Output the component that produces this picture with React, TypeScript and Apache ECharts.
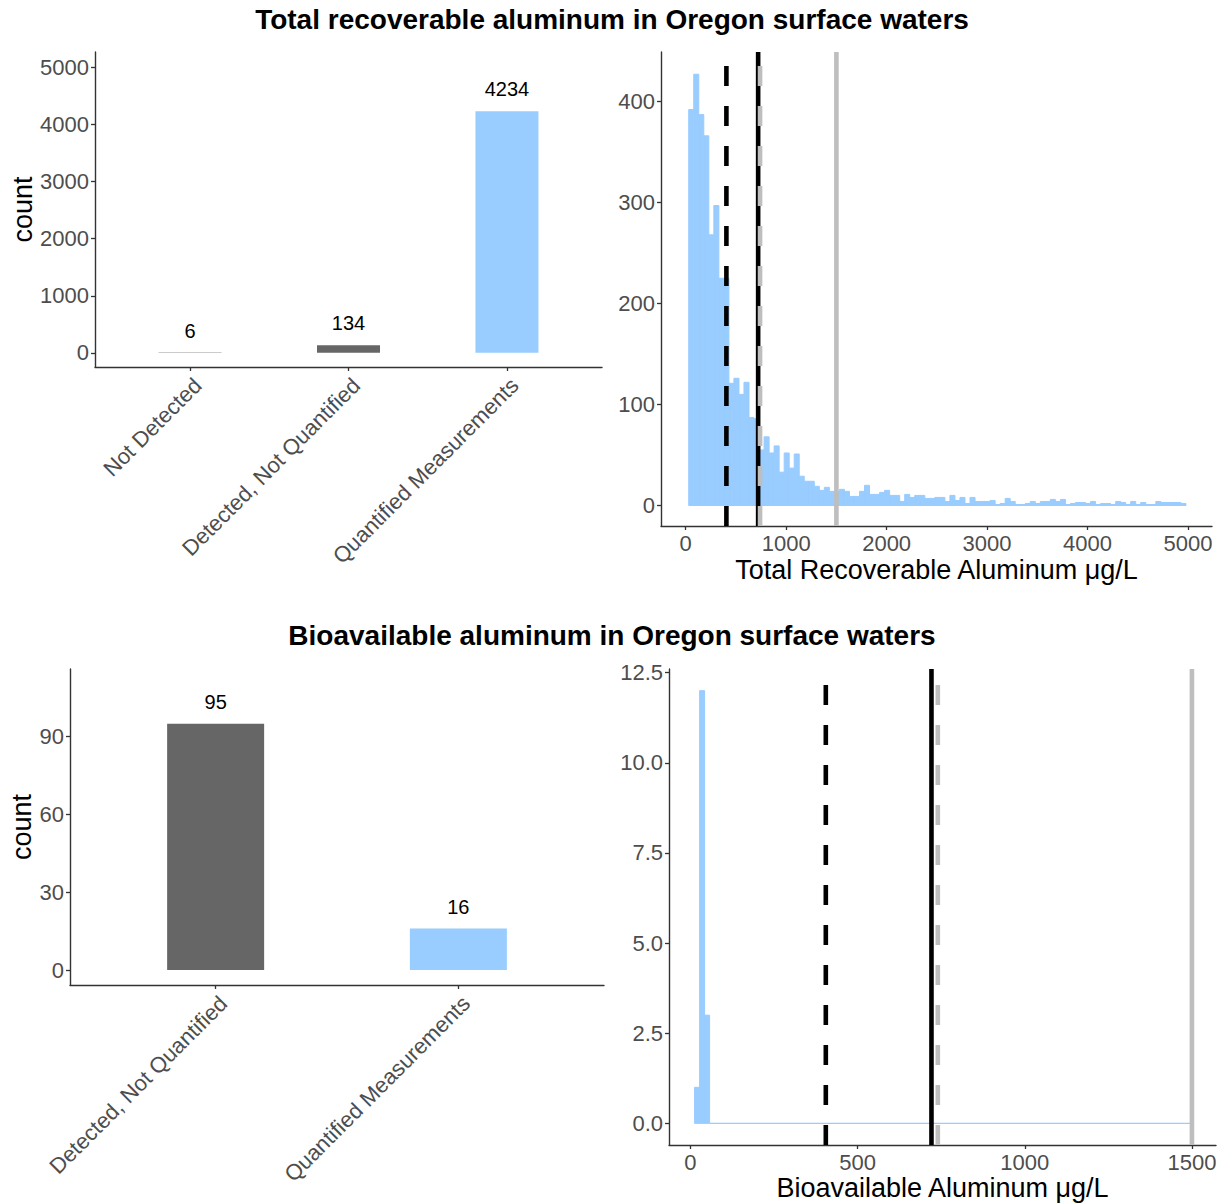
import React, { useEffect, useRef } from "react";
import * as echarts from "echarts";

const FONT = "'Liberation Sans', Arial, Helvetica, sans-serif";

// ---- Titles ----
const totalTitle = "Total recoverable aluminum in Oregon surface waters";
const bioTitle = "Bioavailable aluminum in Oregon surface waters";
const totalXName = "Total Recoverable Aluminum \u03bcg/L";
const bioXName = "Bioavailable Aluminum \u03bcg/L";
const countName = "count";

// ---- Detection category counts ----
const totalCategories = ["Not Detected", "Detected, Not Quantified", "Quantified Measurements"];
const totalCounts = [6, 134, 4234];
const bioCategories = ["Detected, Not Quantified", "Quantified Measurements"];
const bioCounts = [95, 16];

// ---- Histogram of total recoverable aluminum (bins of 50 ug/L starting at 30) ----
const totalBinStart = 30;
const totalBinWidth = 50;
const totalHistCounts = [
  392, 427, 387, 366, 268, 297, 225, 225, 121, 126,
  110, 122, 87, 86, 55, 68, 52, 59, 33, 52,
  37, 51, 29, 24, 24, 19, 15, 18, 14, 14,
  16, 14, 9, 9, 14, 20, 11, 11, 13, 15,
  10, 10, 4, 11, 8, 10, 10, 7, 7, 8,
  8, 4, 10, 5, 8, 2, 8, 4, 4, 4,
  5, 1, 2, 7, 4, 1, 1, 2, 4, 2,
  4, 4, 6, 4, 6, 1, 2, 3, 3, 2,
  4, 1, 2, 2, 1, 4, 3, 1, 4, 1,
  3, 1, 1, 4, 3, 3, 3, 3, 2,
];

// ---- Histogram of bioavailable aluminum (bins of 15 ug/L starting at 12.5) ----
const bioBinStart = 12.5;
const bioBinWidth = 15;
const bioHistCounts = [1, 12, 3];
const bioEmptyBinsUntil = 1500;

// ---- Reference lines (ug/L) ----
const refLineValues = [721, 405, 1500, 740];

// ---- Tick values ----
const totalCountTicks = [0, 1000, 2000, 3000, 4000, 5000];
const totalHistYTicks = [0, 100, 200, 300, 400];
const totalHistXTicks = [0, 1000, 2000, 3000, 4000, 5000];
const bioCountTicks = [0, 30, 60, 90];
const bioHistYTicks = [0, 2.5, 5, 7.5, 10, 12.5];
const bioHistXTicks = [0, 500, 1000, 1500];

// ---- Styles ----
const categoryColor: Record<string, string> = {
  "Not Detected": "#333333",
  "Detected, Not Quantified": "#666666",
  "Quantified Measurements": "#99CCFF",
};
const refLineStyles = [
  { color: "#000000", type: "solid" as any },
  { color: "#000000", type: [20, 20] as any },
  { color: "#BEBEBE", type: "solid" as any },
  { color: "#BEBEBE", type: [20, 20] as any },
];
const HIST_COLOR = "#99CCFF";
const AXIS_COLOR = "#333333";
const TICK_TEXT = "#4D4D4D";

function valueAxis(
  gridIndex: number,
  min: number,
  max: number,
  ticks: number[],
  extra: any = {}
) {
  return {
    type: "value",
    gridIndex,
    min,
    max,
    splitLine: { show: false },
    axisLine: { show: true, onZero: false, lineStyle: { color: AXIS_COLOR, width: 1.4 } },
    axisTick: { show: true, length: 4, customValues: ticks, lineStyle: { color: AXIS_COLOR, width: 1.3 } },
    axisLabel: {
      customValues: ticks,
      color: TICK_TEXT,
      fontSize: 22,
      fontFamily: FONT,
      margin: 6,
      formatter: (v: number) => String(v),
      ...(extra.axisLabel || {}),
    },
    ...(extra.rest || {}),
  };
}

function histSeries(xAxisIndex: number, yAxisIndex: number, start: number, width: number, counts: number[]) {
  return {
    type: "custom",
    xAxisIndex,
    yAxisIndex,
    silent: true,
    encode: { x: [0, 1], y: 2 },
    data: counts.map((c, i) => [start + i * width, start + (i + 1) * width, c]),
    renderItem: (params: any, api: any) => {
      const x0 = api.value(0);
      const x1 = api.value(1);
      const c = api.value(2);
      const p0 = api.coord([x0, 0]);
      const p1 = api.coord([x1, c]);
      return {
        type: "rect",
        shape: { x: p0[0], y: p1[1], width: p1[0] - p0[0], height: p0[1] - p1[1] },
        style: { fill: HIST_COLOR, stroke: HIST_COLOR, lineWidth: 1 },
      };
    },
  };
}

function refLineSeries(xAxisIndex: number, yAxisIndex: number, yMin: number, yMax: number) {
  return refLineValues.map((v, i) => ({
    type: "line",
    xAxisIndex,
    yAxisIndex,
    silent: true,
    symbol: "none",
    data: [
      [v, yMin],
      [v, yMax],
    ],
    lineStyle: { color: refLineStyles[i].color, width: 4.6, type: refLineStyles[i].type },
    z: 5 + i,
  }));
}

function barSeries(xAxisIndex: number, yAxisIndex: number, cats: string[], counts: number[], barWidth: number) {
  return {
    type: "bar",
    xAxisIndex,
    yAxisIndex,
    barWidth,
    silent: true,
    data: cats.map((c, i) => ({ value: [i + 1, counts[i]], itemStyle: { color: categoryColor[c] } })),
    label: {
      show: true,
      position: "top",
      distance: 12,
      color: "#000000",
      fontSize: 20,
      fontFamily: FONT,
      formatter: (p: any) => String(p.value[1]),
    },
  };
}

// Axis ranges (ggplot-style expansion)
const TL_Y = [-248, 5272];
const TR_X = [-246, 5239];
const TR_Y = [-20.3, 449];
const BL_Y = [-5.75, 116.1];
const BR_X = [-64, 1572];
const BR_Y = [-0.6, 12.6];

const catLabel = { rotate: 45, margin: 7, verticalAlign: "top", align: "right" };

export default function App() {
  const ref = useRef<HTMLDivElement>(null);
  useEffect(() => {
    if (!ref.current) return;
    const chart = echarts.init(ref.current, null, { renderer: "svg" });
    const option: any = {
      animation: false,
      backgroundColor: "#ffffff",
      textStyle: { fontFamily: FONT },
      title: [
        {
          text: totalTitle,
          left: "center",
          top: 0,
          textStyle: { fontSize: 28, fontWeight: "bold", color: "#000", fontFamily: FONT },
        },
        {
          text: bioTitle,
          left: "center",
          top: 616,
          textStyle: { fontSize: 28, fontWeight: "bold", color: "#000", fontFamily: FONT },
        },
      ],
      grid: [
        { left: 95, top: 52, width: 507, height: 315 },
        { left: 661, top: 52, width: 551, height: 474 },
        { left: 70, top: 669, width: 534, height: 316 },
        { left: 669, top: 669, width: 547, height: 476 },
      ],
      xAxis: [
        valueAxis(0, 0.4, 3.6, [1, 2, 3], {
          axisLabel: { ...catLabel, formatter: (v: number) => totalCategories[Math.round(v) - 1] || "" },
        }),
        valueAxis(1, TR_X[0], TR_X[1], totalHistXTicks, {
          rest: {
            name: totalXName,
            nameLocation: "middle",
            nameGap: 30,
            nameTextStyle: { fontSize: 27, color: "#000", fontFamily: FONT },
          },
        }),
        valueAxis(2, 0.4, 2.6, [1, 2], {
          axisLabel: { ...catLabel, formatter: (v: number) => bioCategories[Math.round(v) - 1] || "" },
        }),
        valueAxis(3, BR_X[0], BR_X[1], bioHistXTicks, {
          rest: {
            name: bioXName,
            nameLocation: "middle",
            nameGap: 29,
            nameTextStyle: { fontSize: 27, color: "#000", fontFamily: FONT },
          },
        }),
      ],
      yAxis: [
        valueAxis(0, TL_Y[0], TL_Y[1], totalCountTicks, {
          rest: {
            name: countName,
            nameLocation: "middle",
            nameRotate: 90,
            nameGap: 55,
            nameTextStyle: { fontSize: 27, color: "#000", fontFamily: FONT },
          },
        }),
        valueAxis(1, TR_Y[0], TR_Y[1], totalHistYTicks),
        valueAxis(2, BL_Y[0], BL_Y[1], bioCountTicks, {
          rest: {
            name: countName,
            nameLocation: "middle",
            nameRotate: 90,
            nameGap: 34,
            nameTextStyle: { fontSize: 27, color: "#000", fontFamily: FONT },
          },
        }),
        valueAxis(3, BR_Y[0], BR_Y[1], bioHistYTicks, {
          axisLabel: { formatter: (v: number) => v.toFixed(1) },
        }),
      ],
      series: [
        barSeries(0, 0, totalCategories, totalCounts, 63),
        histSeries(1, 1, totalBinStart, totalBinWidth, totalHistCounts),
        ...refLineSeries(1, 1, TR_Y[0], TR_Y[1]),
        barSeries(2, 2, bioCategories, bioCounts, 97),
        histSeries(3, 3, bioBinStart, bioBinWidth, bioHistCounts),
        {
          type: "line",
          xAxisIndex: 3,
          yAxisIndex: 3,
          silent: true,
          symbol: "none",
          data: [
            [bioBinStart + bioHistCounts.length * bioBinWidth, 0],
            [bioEmptyBinsUntil, 0],
          ],
          lineStyle: { color: HIST_COLOR, width: 1.2 },
          z: 3,
        },
        ...refLineSeries(3, 3, BR_Y[0], BR_Y[1]),
      ],
    };
    chart.setOption(option);
    return () => chart.dispose();
  }, []);
  return (
    <div
      ref={ref}
      style={{ position: "absolute", left: 0, top: 0, width: 1224, height: 1204, background: "#fff" }}
    />
  );
}
